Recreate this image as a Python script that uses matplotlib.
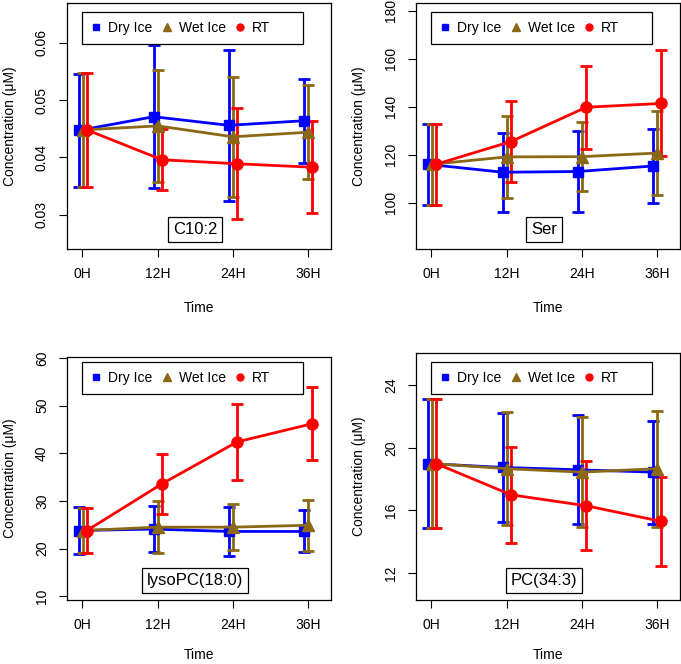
import matplotlib
matplotlib.use("Agg")
import matplotlib.pyplot as plt
from matplotlib.lines import Line2D
from matplotlib.patches import Rectangle
import numpy as np

plt.rcParams["font.family"] = ["Liberation Sans", "DejaVu Sans"]

times = ["0H", "12H", "24H", "36H"]
groups = ["Dry Ice", "Wet Ice", "RT"]
colors = ["#0000ff", "#8b6914", "#ff0000"]
markers = ["s", "^", "o"]
msizes = [7, 8, 8]
offsets = [-0.05, 0.005, 0.06]

# C10:2
c10_dry = [0.0447, 0.0471, 0.0456, 0.0464]
c10_dry_err = [0.0099, 0.0125, 0.0131, 0.0073]
c10_wet = [0.0448, 0.0455, 0.0436, 0.0444]
c10_wet_err = [0.0100, 0.0097, 0.0105, 0.0082]
c10_rt = [0.0448, 0.0396, 0.0389, 0.0383]
c10_rt_err = [0.0100, 0.0053, 0.0097, 0.0080]

# Ser
ser_dry = [116.0, 112.7, 113.0, 115.3]
ser_dry_err = [16.8, 16.5, 16.9, 15.5]
ser_wet = [116.0, 119.1, 119.2, 120.7]
ser_wet_err = [17.0, 17.2, 14.3, 17.6]
ser_rt = [116.0, 125.5, 139.8, 141.4]
ser_rt_err = [17.0, 17.0, 17.3, 22.1]

# lysoPC(18:0)
lyso_dry = [23.8, 24.1, 23.6, 23.6]
lyso_dry_err = [4.9, 4.8, 5.1, 4.4]
lyso_wet = [23.8, 24.5, 24.5, 24.9]
lyso_wet_err = [4.8, 5.4, 4.8, 5.4]
lyso_rt = [23.8, 33.6, 42.4, 46.2]
lyso_rt_err = [4.8, 6.3, 7.9, 7.7]

# PC(34:3)
pc_dry = [19.0, 18.75, 18.6, 18.45]
pc_dry_err = [4.1, 3.5, 3.5, 3.3]
pc_wet = [19.0, 18.67, 18.45, 18.67]
pc_wet_err = [4.1, 3.6, 3.5, 3.7]
pc_rt = [19.0, 17.0, 16.3, 15.3]
pc_rt_err = [4.1, 3.08, 2.86, 2.86]

W, H = 681, 664
fig = plt.figure(figsize=(W / 100, H / 100), dpi=100)

panels = [
    # label, series, errors, ylim, yticks, ticklabels, box (left, top, right, bottom) px
    ("C10:2", [c10_dry, c10_wet, c10_rt], [c10_dry_err, c10_wet_err, c10_rt_err],
     (0.0240, 0.0670), [0.03, 0.04, 0.05, 0.06], ["0.03", "0.04", "0.05", "0.06"],
     (67, 2.5, 331, 249.3)),
    ("Ser", [ser_dry, ser_wet, ser_rt], [ser_dry_err, ser_wet_err, ser_rt_err],
     (80.55, 183.5), [100, 120, 140, 160, 180], ["100", "120", "140", "160", "180"],
     (416, 2.5, 680, 249.3)),
    ("lysoPC(18:0)", [lyso_dry, lyso_wet, lyso_rt], [lyso_dry_err, lyso_wet_err, lyso_rt_err],
     (9.22, 60.2), [10, 20, 30, 40, 50, 60], ["10", "20", "30", "40", "50", "60"],
     (67, 357, 331, 600)),
    ("PC(34:3)", [pc_dry, pc_wet, pc_rt], [pc_dry_err, pc_wet_err, pc_rt_err],
     (10.27, 26.09), [12, 16, 20, 24], ["12", "16", "20", "24"],
     (416, 352.7, 680, 600)),
]

x = np.arange(len(times))

for label, series, errs, ylim, yticks, yticklabels, box in panels:
    l, t, r, b = box
    ax = fig.add_axes([l / W, 1 - b / H, (r - l) / W, (b - t) / H])
    for vals, err, c, m, ms, off in zip(series, errs, colors, markers, msizes, offsets):
        ax.errorbar(x + off, vals, yerr=err, color=c, marker=m, markersize=ms,
                    linewidth=2, elinewidth=2, capsize=4.5, capthick=2)
    ax.set_xlim(-0.205, 3.31)
    ax.set_ylim(*ylim)
    ax.set_xticks(x)
    ax.set_xticklabels(times)
    ax.set_yticks(yticks)
    ax.set_yticklabels(yticklabels, rotation=90, va="center")
    ax.tick_params(length=6, width=0.8, labelsize=10, pad=7)
    for s in ax.spines.values():
        s.set_linewidth(0.9)
    ax.set_xlabel("Time", fontsize=10)
    ax.set_ylabel("Concentration (\u03bcM)", fontsize=10)
    hpx = b - t
    xl_off = 52 if t < 100 else 48
    ax.xaxis.set_label_coords(0.5, -xl_off / hpx)
    ax.yaxis.set_label_coords(-50 / (r - l), 0.5)

    ax.annotate(label, xy=(1.5, 0), xycoords=ax.get_xaxis_transform(),
                xytext=(0, 20), textcoords="offset pixels", ha="center", va="center",
                fontsize=12,
                bbox=dict(boxstyle="square,pad=0.3", fc="white", ec="black", lw=0.9))

    # legend
    handles = [Line2D([], [], color=c, marker=m, linestyle="none", markersize=ms)
               for c, m, ms in zip(colors, markers, [4.5, 5.5, 5])]
    lx = l + 15.3
    ltop = 11.5 if t < 100 else 361.5
    fig.legend(handles, groups, loc="center left", ncol=3, frameon=False,
               bbox_to_anchor=(lx / W, 1 - (ltop + 16.2) / H),
               borderpad=0.5, borderaxespad=0, handlelength=1.0, handletextpad=0.35,
               columnspacing=0.55, fontsize=10)
    fig.patches.append(Rectangle((lx / W, 1 - (ltop + 32.5) / H), 220.7 / W, 32.5 / H,
                                 transform=fig.transFigure, fill=False,
                                 edgecolor="black", linewidth=0.9))

fig.savefig("out.png", dpi=100)
